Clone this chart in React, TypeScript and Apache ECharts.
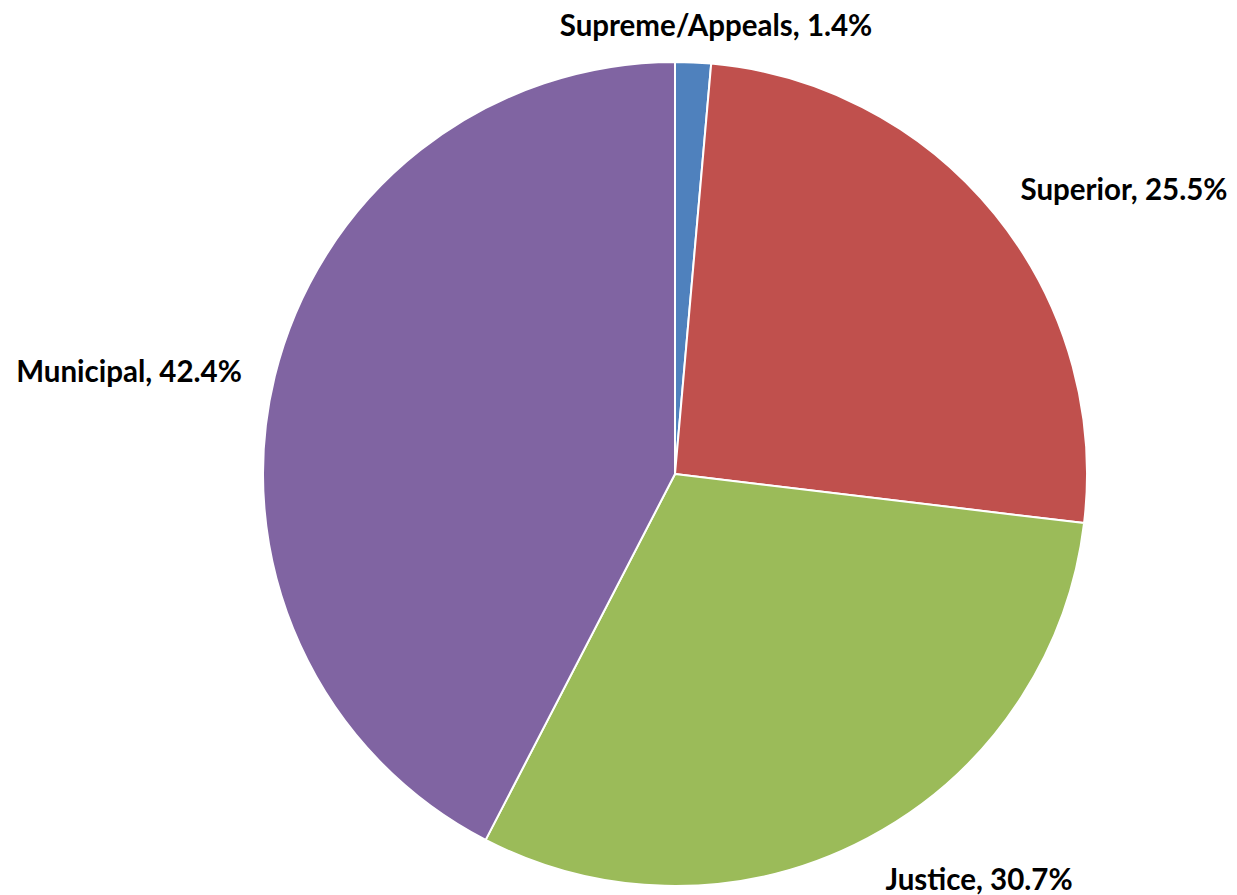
import React, { useEffect, useRef } from "react";
import * as echarts from "echarts";

const categories = ["Supreme/Appeals", "Superior", "Justice", "Municipal"];
const values = [1.4, 25.5, 30.7, 42.4];
const colors = ["#4F81BD", "#C0504D", "#9BBB59", "#8064A2"];
const labelPos = [
  [716, 24],
  [1124, 188],
  [979, 878],
  [129, 370],
];

export default function App() {
  const ref = useRef<HTMLDivElement>(null);
  useEffect(() => {
    document.body.style.margin = "0";
    const chart = echarts.init(ref.current!, null, { renderer: "svg" });
    chart.setOption({
      animation: false,
      backgroundColor: "#ffffff",
      series: [
        {
          type: "pie",
          center: [675, 474],
          radius: [0, 412],
          startAngle: 90,
          clockwise: true,
          data: categories.map((c, i) => ({
            name: c,
            value: values[i],
            itemStyle: { color: colors[i] },
          })),
          itemStyle: { borderColor: "#ffffff", borderWidth: 2 },
          label: {
            show: true,
            position: "inside",
            overflow: "none",
            formatter: (p: any) => `${p.name}, ${p.value.toFixed(1)}%`,
            fontFamily: "Lato",
            fontWeight: "bold",
            fontSize: 29.5,
            color: "#000000",
          },
          labelLine: { show: false },
          labelLayout: (p: any) => ({
            x: labelPos[p.dataIndex][0],
            y: labelPos[p.dataIndex][1],
            align: "center",
            verticalAlign: "middle",
          }),
          emphasis: { disabled: true },
        },
      ],
    });
    return () => chart.dispose();
  }, []);
  return <div ref={ref} style={{ width: 1237, height: 895 }} />;
}
